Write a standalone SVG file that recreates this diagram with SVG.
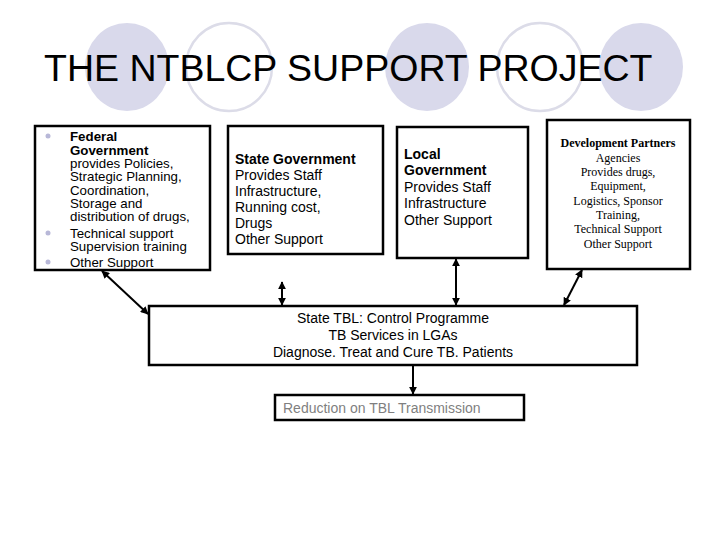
<svg xmlns="http://www.w3.org/2000/svg" width="720" height="540" viewBox="0 0 720 540">
<style>
.t{font-family:"Liberation Sans",Arial,sans-serif;font-size:14px;fill:#000}
.f{font-family:"Liberation Sans",Arial,sans-serif;font-size:13.3px;fill:#000}
.b{font-weight:bold}
.s{font-family:"Liberation Serif","Times New Roman",serif;font-size:12px;fill:#000;text-anchor:middle}
.box{fill:#fff;stroke:#000;stroke-width:2.5}
.con{stroke:#000;stroke-width:2;fill:none}
.fc{fill:#d9d9eb}
.oc{fill:none;stroke:#dcdce8;stroke-width:2.5}
</style>
<defs>
<marker id="ah" viewBox="0 0 10 10" refX="9" refY="5" markerWidth="4" markerHeight="4" orient="auto-start-reverse" markerUnits="strokeWidth">
<path d="M0,0 L10,5 L0,10 z" fill="#000"/>
</marker>
</defs>
<rect width="720" height="540" fill="#fff"/>
<g id="title">
<ellipse class="fc" cx="127" cy="67" rx="42" ry="44"/>
<ellipse class="oc" cx="229" cy="67" rx="43" ry="44"/>
<ellipse class="fc" cx="427" cy="67" rx="42" ry="44"/>
<ellipse class="oc" cx="540" cy="67" rx="43" ry="44"/>
<ellipse class="fc" cx="641" cy="67" rx="42" ry="44"/>
<text x="44" y="81" font-family="'Liberation Sans',Arial,sans-serif" font-size="37.5" fill="#000">THE NTBLCP SUPPORT PROJECT</text>
</g>
<g id="federal">
<rect class="box" x="35" y="126" width="175" height="144" stroke-width="2"/>
<circle cx="48" cy="136" r="2.5" fill="#b8b8d8"/>
<circle cx="48" cy="233" r="2.5" fill="#b8b8d8"/>
<circle cx="48" cy="262" r="2.5" fill="#b8b8d8"/>
<text class="f b" x="70" y="141">Federal</text>
<text class="f b" x="70" y="155">Government</text>
<text class="f" x="70" y="168">provides Policies,</text>
<text class="f" x="70" y="181">Strategic Planning,</text>
<text class="f" x="70" y="195">Coordination,</text>
<text class="f" x="70" y="208">Storage and</text>
<text class="f" x="70" y="221">distribution of drugs,</text>
<text class="f" x="70" y="238">Technical support</text>
<text class="f" x="70" y="251">Supervision training</text>
<text class="f" x="70" y="267">Other Support</text>
</g>
<g id="state">
<rect class="box" x="228" y="126" width="155" height="128" stroke-width="3"/>
<text class="t b" x="235" y="164">State Government</text>
<text class="t" x="235" y="180">Provides Staff</text>
<text class="t" x="235" y="196">Infrastructure,</text>
<text class="t" x="235" y="212">Running cost,</text>
<text class="t" x="235" y="228">Drugs</text>
<text class="t" x="235" y="244">Other Support</text>
</g>
<g id="local">
<rect class="box" x="397" y="127" width="131" height="131"/>
<text class="t b" x="404" y="159">Local</text>
<text class="t b" x="404" y="175">Government</text>
<text class="t" x="404" y="192">Provides Staff</text>
<text class="t" x="404" y="208">Infrastructure</text>
<text class="t" x="404" y="225">Other  Support</text>
</g>
<g id="dev">
<rect class="box" x="547" y="120" width="143" height="149" stroke-width="1.5"/>
<text class="s b" x="618" y="147">Development Partners</text>
<text class="s" x="618" y="162">Agencies</text>
<text class="s" x="618" y="176">Provides drugs,</text>
<text class="s" x="618" y="190">Equipment,</text>
<text class="s" x="618" y="205">Logistics, Sponsor</text>
<text class="s" x="618" y="219">Training,</text>
<text class="s" x="618" y="233">Technical Support</text>
<text class="s" x="618" y="248">Other Support</text>
</g>
<g id="main">
<rect class="box" x="149" y="306" width="488" height="59" stroke-width="2"/>
<text class="t" x="393" y="323" text-anchor="middle">State TBL: Control Programme</text>
<text class="t" x="393" y="340" text-anchor="middle">TB Services in LGAs</text>
<text class="t" x="393" y="357" text-anchor="middle">Diagnose. Treat and Cure TB. Patients</text>
</g>
<g id="reduction">
<rect class="box" x="275" y="395" width="249" height="25" stroke-width="2"/>
<text class="t" x="283" y="413" style="fill:#7f7f7f">Reduction on TBL Transmission</text>
</g>
<g id="connectors">
<line class="con" x1="102" y1="271" x2="148" y2="314" marker-start="url(#ah)" marker-end="url(#ah)"/>
<line class="con" x1="282" y1="282" x2="282" y2="305" marker-start="url(#ah)" marker-end="url(#ah)"/>
<line class="con" x1="456" y1="259" x2="456" y2="305" marker-start="url(#ah)" marker-end="url(#ah)"/>
<line class="con" x1="582" y1="270" x2="564" y2="305" marker-start="url(#ah)" marker-end="url(#ah)"/>
<line class="con" x1="413" y1="366" x2="413" y2="394" marker-end="url(#ah)"/>
</g>
</svg>
